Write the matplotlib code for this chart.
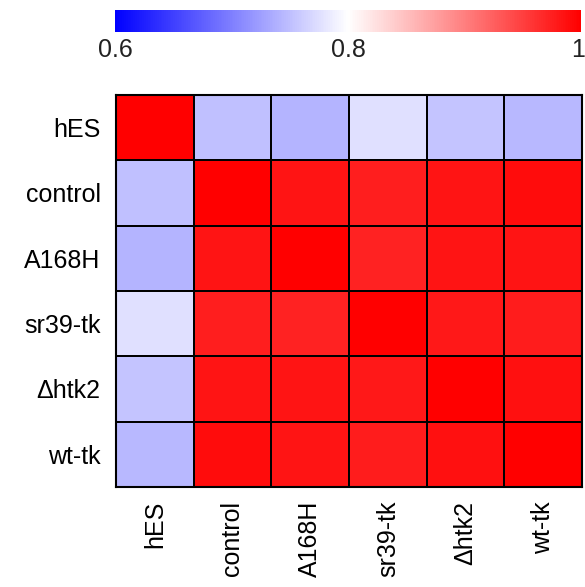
import numpy as np
import matplotlib
matplotlib.use("Agg")
import matplotlib.pyplot as plt
import matplotlib.transforms as mtransforms
from matplotlib.colors import LinearSegmentedColormap, Normalize

plt.rcParams['font.family'] = ['Liberation Sans', 'DejaVu Sans']

labels = ["hES", "control", "A168H", "sr39-tk", "\u0394htk2", "wt-tk"]
hES = [1.0, 0.750, 0.741, 0.776, 0.754, 0.744]
control = [0.750, 1.0, 0.984, 0.975, 0.984, 0.990]
A168H = [0.741, 0.984, 1.0, 0.973, 0.984, 0.984]
sr39_tk = [0.776, 0.975, 0.973, 1.0, 0.981, 0.978]
dhtk2 = [0.754, 0.984, 0.984, 0.981, 1.0, 0.987]
wt_tk = [0.744, 0.990, 0.984, 0.978, 0.987, 1.0]
matrix = np.array([hES, control, A168H, sr39_tk, dhtk2, wt_tk])
cbar_ticks = [0.6, 0.8, 1.0]
cbar_ticklabels = ["0.6", "0.8", "1"]

cmap = LinearSegmentedColormap.from_list("bwr2", ["#0000FF", "#FFFFFF", "#FF0000"])
norm = Normalize(vmin=0.6, vmax=1.0)

fig = plt.figure(figsize=(5.85, 5.87), dpi=100)
ax = fig.add_axes([116/585, 1-487/587, (582-116)/585, (487-95)/587])
mesh = ax.pcolormesh(matrix, cmap=cmap, norm=norm, edgecolors="black", linewidth=1.4)
ax.set_xlim(0, 6)
ax.set_ylim(6, 0)
ax.set_xticks(np.arange(6) + 0.5)
ax.set_yticks(np.arange(6) + 0.5)
ax.set_xticklabels(labels, rotation=90, fontsize=18, color="black")
ax.set_yticklabels(labels, fontsize=18, color="black")
ax.tick_params(length=0)
ax.tick_params(axis="y", pad=11)
ax.tick_params(axis="x", pad=10)
for s in ax.spines.values():
    s.set_linewidth(1.5)
    s.set_color("black")

cax = fig.add_axes([115/585, 1-32/587, (581-115)/585, 22/587])
cb = fig.colorbar(mesh, cax=cax, orientation="horizontal", ticks=cbar_ticks)
cb.set_ticklabels(cbar_ticklabels)
cb.outline.set_visible(False)
cax.tick_params(length=0, labelsize=18, labelcolor="#222222", pad=4)
last = cax.get_xticklabels()[-1]
last.set_transform(last.get_transform() + mtransforms.ScaledTranslation(-3/100, 0, fig.dpi_scale_trans))

fig.savefig("out.png", dpi=100)
